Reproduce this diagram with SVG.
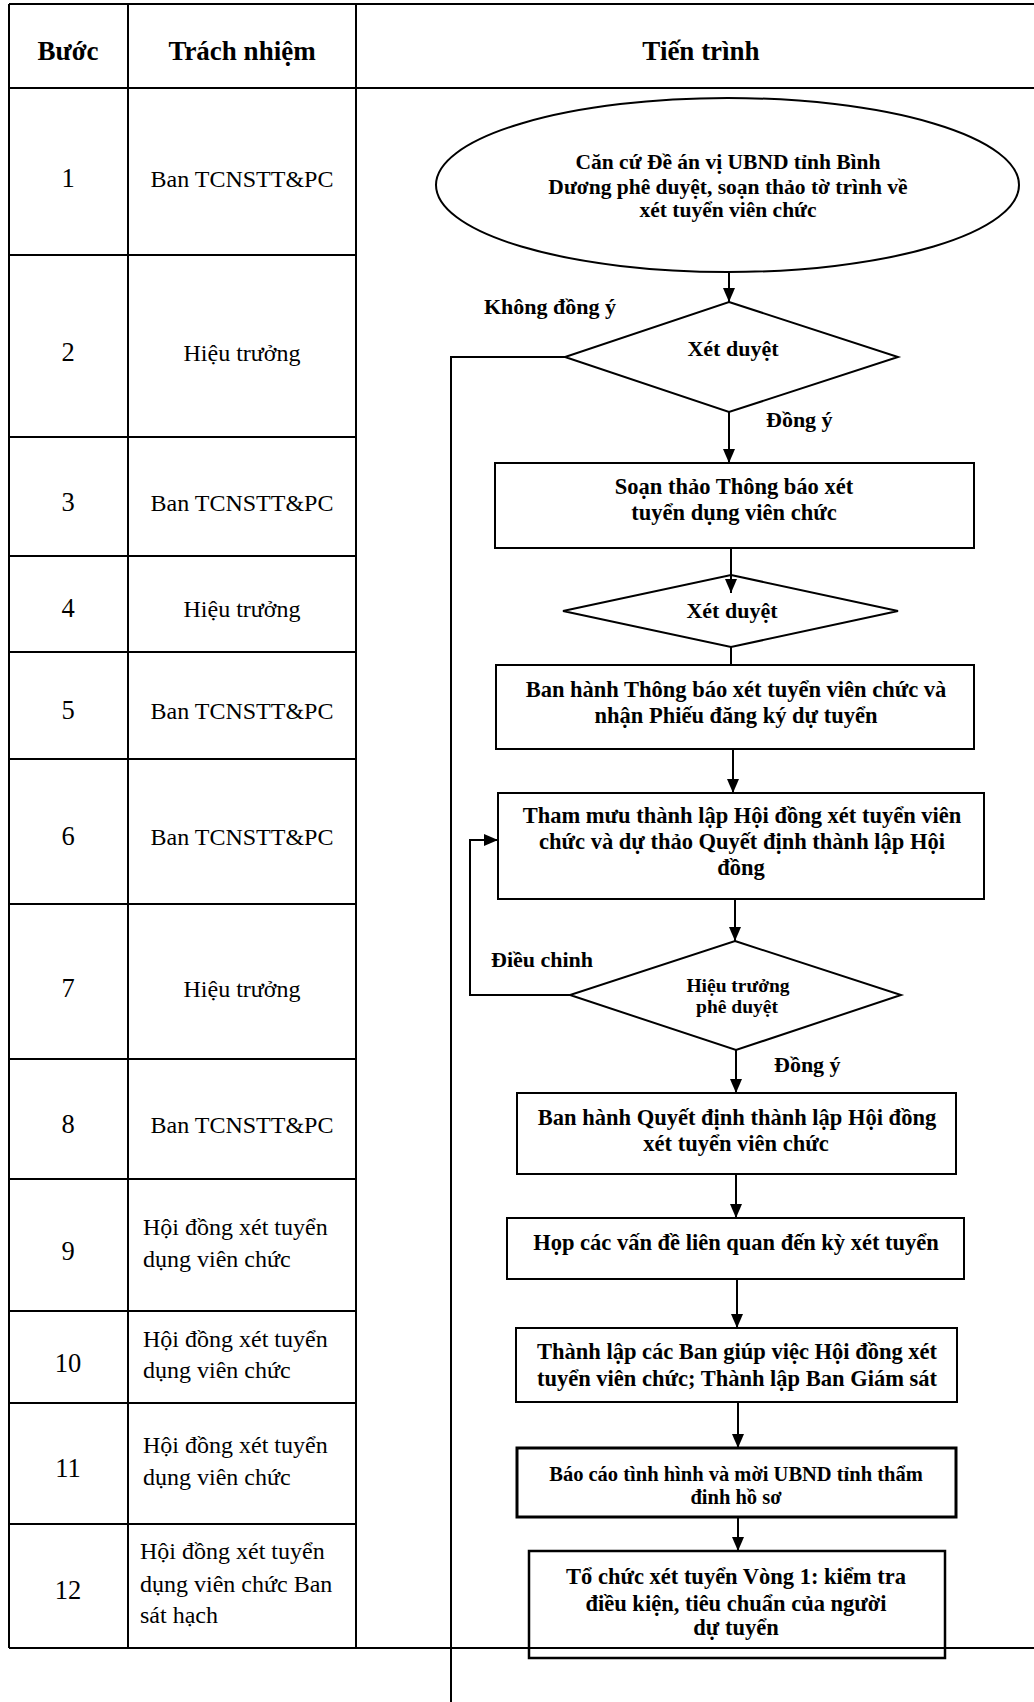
<svg xmlns="http://www.w3.org/2000/svg" width="1034" height="1702" viewBox="0 0 1034 1702">
<style>
.tl{stroke:#000;stroke-width:2;fill:none}
.hd{font-family:"Liberation Serif","Times New Roman",serif;font-weight:bold;font-size:27px;text-anchor:middle;fill:#000}
.cell{font-family:"Liberation Serif","Times New Roman",serif;font-size:24px;fill:#000}
.num{font-family:"Liberation Serif","Times New Roman",serif;font-size:26.5px;fill:#000;text-anchor:middle}
.mid{text-anchor:middle}
.shape{fill:none;stroke:#000;stroke-width:2}
.thick{stroke-width:3}
.ft{font-family:"Liberation Serif","Times New Roman",serif;font-weight:bold;font-size:22.5px;text-anchor:middle;fill:#000}
.el{font-size:21.5px}
.sm{font-size:20.5px}
.xs{font-size:19.5px}
.lbl{font-family:"Liberation Serif","Times New Roman",serif;font-weight:bold;font-size:22px;fill:#000}
.con{fill:none;stroke:#000;stroke-width:2}
</style>
<defs>
<marker id="ah" markerUnits="userSpaceOnUse" markerWidth="14" markerHeight="12" viewBox="0 0 14 12" refX="14" refY="6" orient="auto"><path d="M0,0 L14,6 L0,12 z" fill="#000"/></marker>
</defs>
<rect x="0" y="0" width="1034" height="1702" fill="#fff"/>

<g id="table">
<path class="tl" d="M9,4 H1034 M9,88 H1034 M9,1648 H1034 M9,4 V1648 M128,4 V1648 M356,4 V1648"/>
<path class="tl" d="M9,255 H356 M9,437 H356 M9,556 H356 M9,652 H356 M9,759 H356 M9,904 H356 M9,1059 H356 M9,1179 H356 M9,1311 H356 M9,1403 H356 M9,1524 H356"/>
<text class="hd" x="68" y="60">Bước</text>
<text class="hd" x="242" y="60">Trách nhiệm</text>
<text class="hd" x="701" y="60">Tiến trình</text>
<text class="num" x="68" y="187">1</text>
<text class="cell mid" x="242" y="187">Ban TCNSTT&amp;PC</text>
<text class="num" x="68" y="361">2</text>
<text class="cell mid" x="242" y="361">Hiệu trưởng</text>
<text class="num" x="68" y="511">3</text>
<text class="cell mid" x="242" y="511">Ban TCNSTT&amp;PC</text>
<text class="num" x="68" y="617">4</text>
<text class="cell mid" x="242" y="617">Hiệu trưởng</text>
<text class="num" x="68" y="719">5</text>
<text class="cell mid" x="242" y="719">Ban TCNSTT&amp;PC</text>
<text class="num" x="68" y="845">6</text>
<text class="cell mid" x="242" y="845">Ban TCNSTT&amp;PC</text>
<text class="num" x="68" y="997">7</text>
<text class="cell mid" x="242" y="997">Hiệu trưởng</text>
<text class="num" x="68" y="1133">8</text>
<text class="cell mid" x="242" y="1133">Ban TCNSTT&amp;PC</text>
<text class="num" x="68" y="1260">9</text>
<text class="cell" x="143" y="1235">Hội đồng xét tuyển</text>
<text class="cell" x="143" y="1267">dụng viên chức</text>
<text class="num" x="68" y="1372">10</text>
<text class="cell" x="143" y="1347">Hội đồng xét tuyển</text>
<text class="cell" x="143" y="1378">dụng viên chức</text>
<text class="num" x="68" y="1477">11</text>
<text class="cell" x="143" y="1453">Hội đồng xét tuyển</text>
<text class="cell" x="143" y="1485">dụng viên chức</text>
<text class="num" x="68" y="1599">12</text>
<text class="cell" x="140" y="1559">Hội đồng xét tuyển</text>
<text class="cell" x="140" y="1592">dụng viên chức Ban</text>
<text class="cell" x="140" y="1623">sát hạch</text>
</g>

<g id="connectors">
<path class="con" d="M729,273 V302" marker-end="url(#ah)"/>
<path class="con" d="M729,412 V463" marker-end="url(#ah)"/>
<path class="con" d="M731,548 V593" marker-end="url(#ah)"/>
<path class="con" d="M731,647 V665"/>
<path class="con" d="M733,749 V793" marker-end="url(#ah)"/>
<path class="con" d="M735,899 V941" marker-end="url(#ah)"/>
<path class="con" d="M570,995 H470 V840 H498" marker-end="url(#ah)"/>
<path class="con" d="M736,1050 V1093" marker-end="url(#ah)"/>
<path class="con" d="M736,1174 V1218" marker-end="url(#ah)"/>
<path class="con" d="M737,1279 V1328" marker-end="url(#ah)"/>
<path class="con" d="M738,1402 V1448" marker-end="url(#ah)"/>
<path class="con" d="M738,1517 V1551" marker-end="url(#ah)"/>
<path class="con" d="M565,357 H451 V1702"/>
<text class="lbl" x="484" y="314">Không đồng ý</text>
<text class="lbl" x="766" y="427">Đồng ý</text>
<text class="lbl" x="491" y="967">Điều chinh</text>
<text class="lbl" x="774" y="1072">Đồng ý</text>
</g>

<g id="n1">
<ellipse class="shape" cx="727.5" cy="185" rx="291.5" ry="87"/>
<text class="ft el" x="728" y="169">Căn cứ Đề án vị UBND tỉnh Bình</text>
<text class="ft el" x="728" y="194">Dương phê duyệt, soạn thảo tờ trình về</text>
<text class="ft el" x="728" y="217">xét tuyển viên chức</text>
</g>

<g id="n2">
<polygon class="shape" points="729,302 898,357 729,412 565,357"/>
<text class="ft" x="733" y="356" style="font-size:22px">Xét duyệt</text>
</g>

<g id="n3">
<rect class="shape" x="495" y="463" width="479" height="85"/>
<text class="ft" x="734" y="494">Soạn thảo Thông báo xét</text>
<text class="ft" x="734" y="520">tuyển dụng viên chức</text>
</g>

<g id="n4">
<polygon class="shape" points="731,575 898,611 731,647 563,611"/>
<text class="ft" x="732" y="618" style="font-size:22px">Xét duyệt</text>
</g>

<g id="n5">
<rect class="shape" x="496" y="665" width="478" height="84"/>
<text class="ft" x="736" y="697">Ban hành Thông báo xét tuyển viên chức và</text>
<text class="ft" x="736" y="723">nhận Phiếu đăng ký dự tuyển</text>
</g>

<g id="n6">
<rect class="shape" x="498" y="793" width="486" height="106"/>
<text class="ft" x="742" y="823">Tham mưu thành lập Hội đồng xét tuyển viên</text>
<text class="ft" x="742" y="849">chức và dự thảo Quyết định thành lập Hội</text>
<text class="ft" x="741" y="875">đồng</text>
</g>

<g id="n7">
<polygon class="shape" points="735,941 901,995 736,1050 570,995"/>
<text class="ft xs" x="738" y="992">Hiệu trưởng</text>
<text class="ft xs" x="737" y="1013">phê duyệt</text>
</g>

<g id="n8">
<rect class="shape" x="517" y="1093" width="439" height="81"/>
<text class="ft" x="737" y="1125">Ban hành Quyết định thành lập Hội đồng</text>
<text class="ft" x="736" y="1151">xét tuyển viên chức</text>
</g>

<g id="n9">
<rect class="shape" x="507" y="1218" width="457" height="61"/>
<text class="ft" x="736" y="1250">Họp các vấn đề liên quan đến kỳ xét tuyển</text>
</g>

<g id="n10">
<rect class="shape" x="516" y="1328" width="441" height="74"/>
<text class="ft" x="737" y="1359">Thành lập các Ban giúp việc Hội đồng xét</text>
<text class="ft" x="737" y="1386">tuyển viên chức; Thành lập Ban Giám sát</text>
</g>

<g id="n11">
<rect class="shape thick" x="517" y="1448" width="439" height="69"/>
<text class="ft sm" x="736" y="1481">Báo cáo tình hình và mời UBND tỉnh thẩm</text>
<text class="ft sm" x="736" y="1504">đinh hồ sơ</text>
</g>

<g id="n12">
<rect class="shape" x="529" y="1551" width="416" height="107" style="stroke-width:2.5"/>
<text class="ft" x="736" y="1584">Tổ chức xét tuyển Vòng 1: kiểm tra</text>
<text class="ft" x="736" y="1611">điều kiện, tiêu chuẩn của người</text>
<text class="ft" x="736" y="1635">dự tuyển</text>
</g>
</svg>
